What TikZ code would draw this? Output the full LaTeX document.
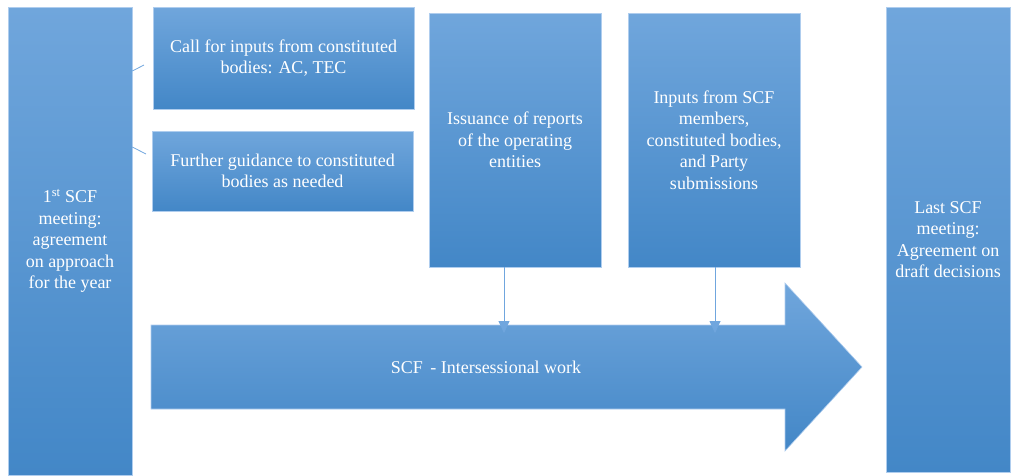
\documentclass[tikz,border=0pt]{standalone}
\usepackage{fontspec}
\setmainfont{Liberation Serif}
\usepackage{tikz}
\usetikzlibrary{arrows.meta}
\definecolor{boxtop}{RGB}{112,166,220}
\definecolor{boxbot}{RGB}{67,135,199}
\definecolor{edgeblue}{RGB}{175,205,238}
\definecolor{lineblue}{RGB}{112,166,222}

\begin{document}
\begin{tikzpicture}[x=1pt, y=-1pt,
		every node/.style={text=white, align=center, inner sep=0pt, font=\fontsize{18}{21.5}\selectfont},
		blk/.style={draw=edgeblue, line width=0.6pt, top color=boxtop, bottom color=boxbot},
		con/.style={draw=lineblue, line width=0.8pt}]
		\useasboundingbox (0,0) rectangle (1011,475);

		\path (70,241) node[blk, minimum width=124pt, minimum height=468pt] (m1) {1\textsuperscript{st} SCF\\meeting:\\agreement\\on approach\\for the year}
		(283.5,58) node[blk, minimum width=261pt, minimum height=102pt] (call) {Call for inputs from constituted\\bodies: AC, TEC}
		(282.5,171) node[blk, minimum width=261pt, minimum height=80pt] (guid) {Further guidance to constituted\\bodies as needed}
		(515,140) node[blk, minimum width=172pt, minimum height=254pt] (iss) {Issuance of reports\\of the operating\\entities}
		(714,140) node[blk, minimum width=172pt, minimum height=254pt] (inp) {Inputs from SCF\\members,\\constituted bodies,\\and Party\\submissions}
		(948,239.5) node[blk, minimum width=124pt, minimum height=465pt] (m2) {Last SCF\\meeting:\\Agreement on\\draft decisions};

		% intersessional arrow
		\path[blk] (151,325) -- (785,325) -- (785,283) -- (862,367) -- (785,451) -- (785,409) -- (151,409) -- cycle;
		\path (486,367) node (sw) {SCF \,- Intersessional work};

		\coordinate (c1) at (144,65);
		\coordinate (c2) at (146,154);
		\coordinate (a1) at (504,333);
		\coordinate (a2) at (715,333);

		\draw[con] (m1.east |- 0,71) -- (c1)
		(m1.east |- 0,147) -- (c2);
		\draw[con, -{Triangle[width=11pt,length=12pt]}] (iss.south -| a1) -- (a1);
		\draw[con, -{Triangle[width=11pt,length=12pt]}] (inp.south -| a2) -- (a2);

	\end{tikzpicture}
\end{document}
